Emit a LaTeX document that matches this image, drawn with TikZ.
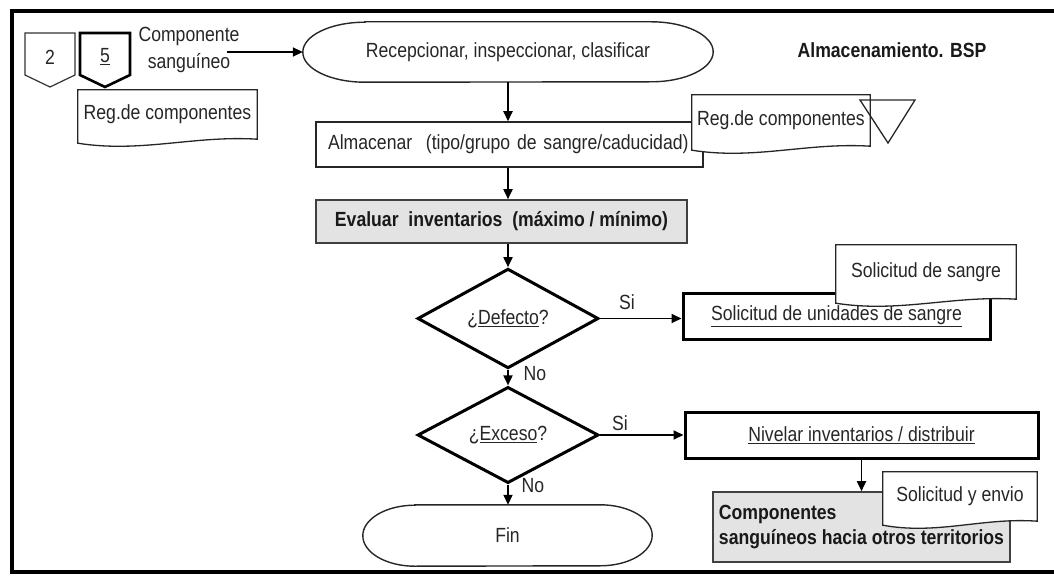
\documentclass[tikz,border=0pt]{standalone}
\usepackage{fontspec}
\setmainfont[FakeStretch=0.86]{Liberation Sans}
\usetikzlibrary{arrows.meta,shapes.geometric,calc}

% terminal outline (flat top and bottom, half-elliptic ends) around a node
\newcommand\terminaloutline[3]{%
  \draw[termline] ([xshift=#2]#1.north west) -- ([xshift=-#2]#1.north east)
    arc[start angle=90,end angle=-90,x radius=#2,y radius=#3]
    -- ([xshift=#2]#1.south west)
    arc[start angle=270,end angle=90,x radius=#2,y radius=#3] -- cycle;}

% document symbol: white sheet with wavy lower edge, then its text
\newcommand\docnode[5]{%
  \path (#2) node[minimum width=#3, minimum height=#4, inner sep=0pt] (#1) {};
  \draw[docline] (#1.north west) -- (#1.north east) -- ([yshift=4pt]#1.south east)
    .. controls ($(#1.south west)!0.65!(#1.south east)+(0,8pt)$)
    and ($(#1.south west)!0.35!(#1.south east)+(0,-10pt)$) .. (#1.south west) -- cycle;
  \node[txt] (#1-text) at ([yshift=2pt]#1.center) {#5};}

\begin{document}
\begin{tikzpicture}[x=1pt,y=-1pt,
  txt/.style={font=\fontsize{20.5}{24}\selectfont, text=black!85},
  boldtxt/.style={font=\fontsize{20.5}{25}\selectfont\bfseries, text=black!90},
  frame/.style={line width=4pt},
  termline/.style={line width=1.4pt, draw=black!85},
  docline/.style={line width=1.3pt, draw=black!85, fill=white},
  box/.style={draw=black!85, line width=1.5pt, inner sep=0pt},
  thickbox/.style={draw=black, line width=3pt, inner sep=0pt},
  graybox/.style={draw=black!75, line width=1.6pt, fill=black!11, inner sep=0pt},
  decision/.style={diamond, draw=black, line width=3pt, minimum width=181pt,
    minimum height=83pt, inner sep=0pt},
  flow/.style={line width=1.8pt, -{Triangle[length=10pt,width=9pt]}},
  offthin/.style={line width=1.2pt, draw=black!80},
  offthick/.style={line width=2.6pt, draw=black},
  storage/.style={line width=1.3pt, draw=black!85}]
\useasboundingbox (0,0) rectangle (1054,577);

% outer frame, open on the right
\draw[frame] (1056,11) -- (12,11) -- (12,572) -- (1056,572);

% off-page connectors
\draw[offthin] (25,33) -- (75,33) -- (75,75) -- (50,87) -- (25,75) -- cycle;
\node[txt] (pg2) at (50,57) {2};
\draw[offthick] (80,33) -- (130,33) -- (130,75) -- (105,87) -- (80,75) -- cycle;
\node[txt] (pg5) at (105,57) {\underline{5}};

\node[txt, align=center, font=\fontsize{20.5}{27}\selectfont] (comp) at (189,50)
  {Componente\\sanguíneo};
\coordinate (compout) at (227,52);

\docnode{reg1}{167.5,116.5}{179pt}{53pt}{Reg.de componentes}

% main column
\node[txt, minimum width=410pt, minimum height=60pt, inner sep=0pt] (rec) at (508,52)
  {Recepcionar, inspeccionar, clasificar};
\terminaloutline{rec}{62pt}{30pt}

\node[box, txt, minimum height=45pt, text width=363pt, inner xsep=12pt, align=left]
  (alm) at (509.5,144.5) {Almacenar\ \ (tipo/grupo de sangre/caducidad)};

\docnode{reg2}{781,122.5}{178pt}{55pt}{Reg.de componentes}
\draw[storage] (860,100) -- (915,100) -- (888,143) -- cycle;

\node[boldtxt] (title) at (892,50) {Almacenamiento. BSP};

\node[graybox, boldtxt, minimum width=371pt, minimum height=43pt] (eval) at (501.5,221.5)
  {Evaluar\ \ inventarios\ \ (máximo / mínimo)};

\node[decision, txt] (d1) at (508,318.5) {¿\underline{Defecto}?};
\node[thickbox, txt, minimum width=307pt, minimum height=46pt] (sol) at (836.5,316)
  {\underline{Solicitud de unidades de sangre}};
\docnode{sol2}{926,274}{180pt}{58pt}{Solicitud de sangre}

\node[decision, txt] (d2) at (508,435) {¿\underline{Exceso}?};
\node[thickbox, txt, minimum width=353pt, minimum height=46pt] (niv) at (861.5,435)
  {\underline{Nivelar inventarios / distribuir}};

\node[graybox, boldtxt, minimum width=297pt, minimum height=70pt, align=left]
  (out) at (861.5,527) {Componentes\\sanguíneos hacia otros territorios};
\docnode{env}{960,498.5}{154pt}{53pt}{Solicitud y envio}

\node[txt, minimum width=289pt, minimum height=61pt, inner sep=0pt] (fin) at (507.5,535.5) {Fin};
\terminaloutline{fin}{52pt}{30.5pt}

% branch labels
\node[txt] (si1) at (627,302) {Si};
\node[txt] (no1) at (535,374) {No};
\node[txt] (si2) at (620,423) {Si};
\node[txt] (no2) at (533,486) {No};

% connectors
\draw[flow] (compout) -- (rec.west);
\draw[flow] (rec.south -| d1.north) -- (alm.north -| d1.north);
\draw[flow] (alm.south -| d1.north) -- (eval.north -| d1.north);
\draw[flow] (eval.south -| d1.north) -- (d1.north);
\draw[flow] (d1.east) -- (d1.east -| sol.west);
\draw[flow] (d1.south) -- (d2.north);
\draw[flow] (d2.east) -- (d2.east -| niv.west);
\draw[flow] (d2.south) -- (d2.south |- fin.north);
\draw[flow] (niv.south) -- (niv.south |- out.north);
\end{tikzpicture}
\end{document}
